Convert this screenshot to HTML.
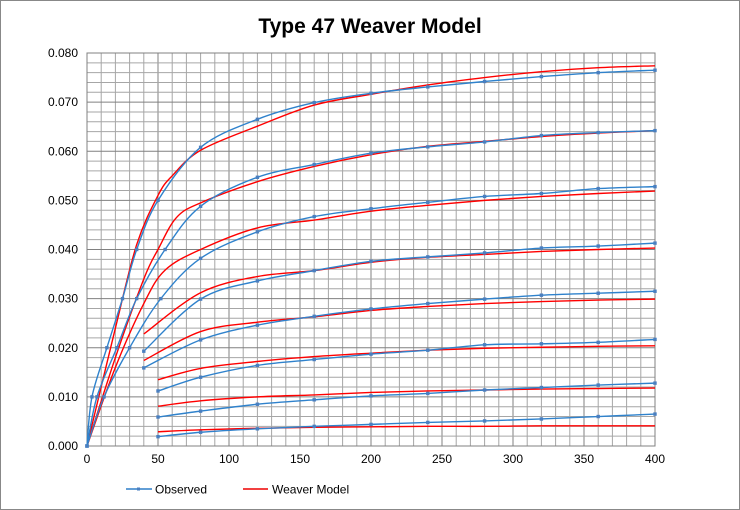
<!DOCTYPE html>
<html><head><meta charset="utf-8"><style>
body{margin:0;background:#fff;}
svg{display:block;font-family:"Liberation Sans",sans-serif;}
</style></head><body>
<svg id="chart" width="740" height="510">
<rect x="0.5" y="0.5" width="739" height="509" fill="#fff" stroke="#888"/>
<text x="370" y="33" text-anchor="middle" font-size="21" font-weight="bold">Type 47 Weaver Model</text>
<g id="grid"></g>
<g id="axes"></g>
<g id="series"></g>
<g>
<g>
<line x1="126" y1="489" x2="152" y2="489" stroke="#2f7fc8" stroke-width="1.5"/>
<rect x="137" y="487.5" width="3" height="3" fill="#4a7fc0"/>
<text x="155" y="493.5" font-size="12">Observed</text></g>
<g>
<line x1="243" y1="489" x2="268" y2="489" stroke="#e00" stroke-width="1.5"/>
<text x="272" y="493.5" font-size="12">Weaver Model</text></g>
</g>
</svg>
<script>
const xTicks=[0,50,100,150,200,250,300,350,400];
const yTicks=["0.000","0.010","0.020","0.030","0.040","0.050","0.060","0.070","0.080"];
const obs1=[[0,0],[3.5,0.010],[14,0.020],[25,0.030],[35,0.040],[50,0.050],[80,0.0608],[120,0.0665],[160,0.0699],[200,0.0718],[240,0.0731],[280,0.0742],[320,0.0752],[360,0.0760],[400,0.0765]];
const obs2=[[0,0],[7,0.010],[21,0.020],[35,0.030],[55,0.040],[80,0.0488],[120,0.0547],[160,0.0573],[200,0.0596],[240,0.0609],[280,0.0619],[320,0.0632],[360,0.0638],[400,0.0642]];
const obs3=[[0,0],[12,0.010],[30,0.020],[52,0.030],[80,0.0382],[120,0.0436],[160,0.0467],[200,0.0483],[240,0.0496],[280,0.0508],[320,0.0514],[360,0.0524],[400,0.0528]];
const obs4=[[40,0.0193],[80,0.0299],[120,0.0336],[160,0.0357],[200,0.0376],[240,0.0385],[280,0.0393],[320,0.0403],[360,0.0407],[400,0.0413]];
const obs5=[[40,0.0159],[80,0.0216],[120,0.0246],[160,0.0264],[200,0.0279],[240,0.0290],[280,0.0299],[320,0.0307],[360,0.0311],[400,0.0315]];
const obs6=[[50,0.0112],[80,0.0140],[120,0.0164],[160,0.0176],[200,0.0187],[240,0.0195],[280,0.0206],[320,0.0208],[360,0.0211],[400,0.0217]];
const obs7=[[50,0.0059],[80,0.0071],[120,0.0085],[160,0.0094],[200,0.0102],[240,0.0107],[280,0.0114],[320,0.0119],[360,0.0124],[400,0.0128]];
const obs8=[[50,0.0019],[80,0.0028],[120,0.0035],[160,0.0040],[200,0.0044],[240,0.0048],[280,0.0051],[320,0.0055],[360,0.0060],[400,0.0065]];
const mod1=[[0,0],[20,0.024],[35,0.041],[50,0.051],[60,0.055],[80,0.0602],[120,0.0651],[160,0.0694],[200,0.0716],[240,0.0735],[280,0.0750],[320,0.0762],[360,0.0770],[400,0.0774]];
const mod2=[[0,0],[20,0.018],[40,0.034],[50,0.040],[63,0.0465],[80,0.0495],[120,0.0538],[160,0.0569],[200,0.0593],[240,0.0610],[280,0.0620],[320,0.0630],[360,0.0637],[400,0.0642]];
const mod3=[[0,0],[20,0.016],[40,0.029],[55,0.0358],[80,0.0400],[120,0.0444],[160,0.0460],[200,0.0478],[240,0.0490],[280,0.0500],[320,0.0508],[360,0.0514],[400,0.0519]];
const mod4=[[40,0.0228],[80,0.0312],[120,0.0345],[160,0.0357],[200,0.0374],[240,0.0384],[280,0.0390],[320,0.0396],[360,0.0400],[400,0.0403]];
const mod5=[[40,0.0174],[80,0.0233],[120,0.0252],[160,0.0263],[200,0.0276],[240,0.0284],[280,0.0290],[320,0.0294],[360,0.0297],[400,0.0299]];
const mod6=[[50,0.0135],[80,0.0158],[120,0.0172],[160,0.0182],[200,0.0189],[240,0.0195],[280,0.0199],[320,0.0201],[360,0.0203],[400,0.0204]];
const mod7=[[50,0.0081],[80,0.0092],[120,0.0100],[160,0.0104],[200,0.0109],[240,0.0112],[280,0.0114],[320,0.0116],[360,0.0117],[400,0.0118]];
const mod8=[[50,0.0029],[80,0.0033],[120,0.0036],[160,0.0038],[200,0.0039],[240,0.0040],[280,0.0040],[320,0.0041],[360,0.0041],[400,0.0041]];
const observed=[obs1,obs2,obs3,obs4,obs5,obs6,obs7,obs8];
const models=[mod1,mod2,mod3,mod4,mod5,mod6,mod7,mod8];

const X0=87,X1=655,Y0=446,Y1=53,XMAX=400,YMAX=0.08;
const sx=v=>X0+v*(X1-X0)/XMAX;
const sy=v=>Y0-v*(Y0-Y1)/YMAX;
const NS="http://www.w3.org/2000/svg";
function mk(tag,attrs,parent){const e=document.createElementNS(NS,tag);for(const k in attrs)e.setAttribute(k,attrs[k]);parent.appendChild(e);return e;}
const grid=document.getElementById('grid'),axes=document.getElementById('axes'),ser=document.getElementById('series');
for(let i=0;i<=40;i++){const v=i*10;const x=sx(v);const l=mk('line',{x1:x,y1:Y1,x2:x,y2:Y0,stroke:i%5?'#a6a6a6':'#808080','stroke-width':1},grid);

}
for(let i=0;i<=40;i++){const v=i*0.002;const y=sy(v);const l=mk('line',{x1:X0,y1:y,x2:X1,y2:y,stroke:i%5?'#a6a6a6':'#808080','stroke-width':1},grid);

}
xTicks.forEach(v=>{const t=mk('text',{x:sx(v),y:Y0+17,'text-anchor':'middle','font-size':12},axes);t.textContent=v;

});
yTicks.forEach(s=>{const t=mk('text',{x:X0-9,y:sy(parseFloat(s))+4,'text-anchor':'end','font-size':12},axes);t.textContent=s;

});
function path(pts){const p=pts.map(d=>[sx(d[0]),sy(d[1])]);let s='M'+p[0][0]+','+p[0][1];const t=0.5/3*2;
for(let i=0;i<p.length-1;i++){const p0=p[Math.max(0,i-1)],p1=p[i],p2=p[i+1],p3=p[Math.min(p.length-1,i+2)];
const c1=[p1[0]+(p2[0]-p0[0])*t/2,p1[1]+(p2[1]-p0[1])*t/2],c2=[p2[0]-(p3[0]-p1[0])*t/2,p2[1]-(p3[1]-p1[1])*t/2];
s+=' C'+c1+' '+c2+' '+p2;}return s;}
models.forEach((m,i)=>{const e=mk('path',{d:path(m),fill:'none',stroke:'#f00','stroke-width':1.4},ser);

});
observed.forEach((o,i)=>{const e=mk('path',{d:path(o),fill:'none',stroke:'#2f82cc','stroke-width':1.4},ser);


o.forEach(d=>{const r=mk('rect',{x:sx(d[0])-1.7,y:sy(d[1])-1.7,width:3.4,height:3.4,fill:'#4a7fc0'},ser);

});});
mk('rect',{x:X0,y:Y1,width:X1-X0,height:Y0-Y1,fill:'none',stroke:'#808080'},axes);
</script>
</body></html>
